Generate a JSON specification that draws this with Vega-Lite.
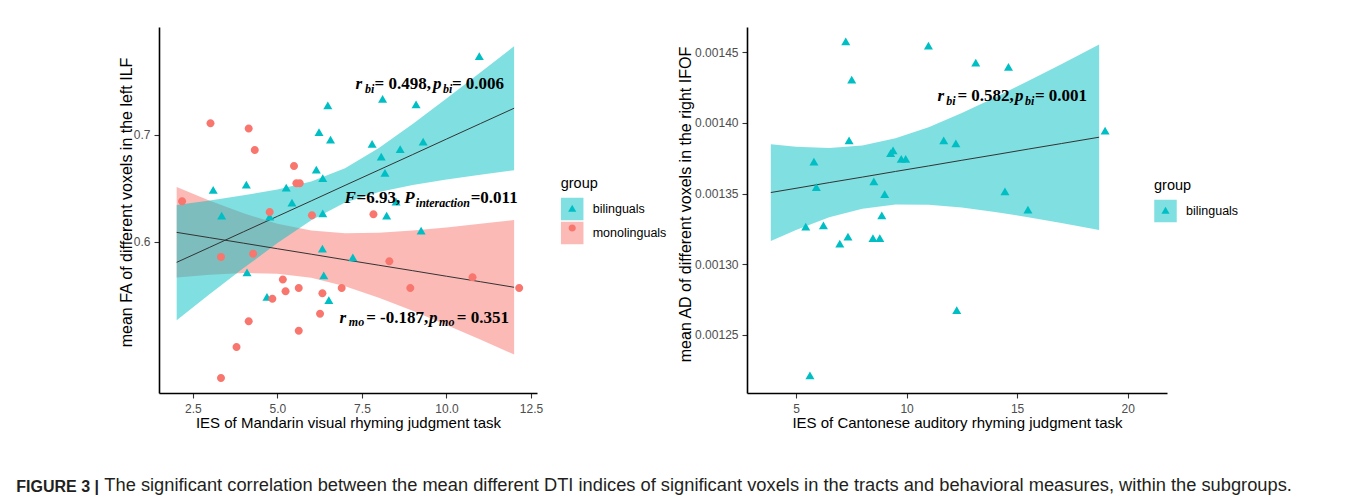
{
  "$schema": "https://vega.github.io/schema/vega-lite/v6.json",
  "autosize": {"type": "pad"},
  "padding": {"left": 16, "top": 27, "right": 5, "bottom": 0},
  "background": "white",
  "title": {"text": "The significant correlation between the mean different DTI indices of significant voxels in the tracts and behavioral measures, within the subgroups.", "orient": "bottom", "anchor": "start", "dx": 88, "offset": -18, "font": "Liberation Sans", "fontSize": 18.3, "fontWeight": "normal", "color": "#231F20"},
  "spacing": 10,
  "resolve": {
    "scale": {"color": "independent", "fill": "independent", "shape": "independent"},
    "legend": {"color": "independent", "fill": "independent", "shape": "independent"}
  },
  "datasets": {
    "left_pts": [
      {"group": "bilinguals", "ies": 10.97, "v": 0.773},
      {"group": "bilinguals", "ies": 8.11, "v": 0.733},
      {"group": "bilinguals", "ies": 9.10, "v": 0.728},
      {"group": "bilinguals", "ies": 6.49, "v": 0.727},
      {"group": "bilinguals", "ies": 6.23, "v": 0.702},
      {"group": "bilinguals", "ies": 6.57, "v": 0.695},
      {"group": "bilinguals", "ies": 7.80, "v": 0.691},
      {"group": "bilinguals", "ies": 9.31, "v": 0.693},
      {"group": "bilinguals", "ies": 8.63, "v": 0.686},
      {"group": "bilinguals", "ies": 8.07, "v": 0.679},
      {"group": "bilinguals", "ies": 8.18, "v": 0.664},
      {"group": "bilinguals", "ies": 6.15, "v": 0.667},
      {"group": "bilinguals", "ies": 6.34, "v": 0.659},
      {"group": "bilinguals", "ies": 5.26, "v": 0.650},
      {"group": "bilinguals", "ies": 4.08, "v": 0.653},
      {"group": "bilinguals", "ies": 3.10, "v": 0.648},
      {"group": "bilinguals", "ies": 5.43, "v": 0.636},
      {"group": "bilinguals", "ies": 8.51, "v": 0.637},
      {"group": "bilinguals", "ies": 3.35, "v": 0.624},
      {"group": "bilinguals", "ies": 4.77, "v": 0.623},
      {"group": "bilinguals", "ies": 6.34, "v": 0.626},
      {"group": "bilinguals", "ies": 8.23, "v": 0.624},
      {"group": "bilinguals", "ies": 9.25, "v": 0.610},
      {"group": "bilinguals", "ies": 6.33, "v": 0.593},
      {"group": "bilinguals", "ies": 7.23, "v": 0.585},
      {"group": "bilinguals", "ies": 4.10, "v": 0.571},
      {"group": "bilinguals", "ies": 6.37, "v": 0.568},
      {"group": "bilinguals", "ies": 4.69, "v": 0.548},
      {"group": "bilinguals", "ies": 6.52, "v": 0.545},
      {"group": "monolinguals", "ies": 3.02, "v": 0.711},
      {"group": "monolinguals", "ies": 4.15, "v": 0.706},
      {"group": "monolinguals", "ies": 4.33, "v": 0.686},
      {"group": "monolinguals", "ies": 5.49, "v": 0.671},
      {"group": "monolinguals", "ies": 5.56, "v": 0.655},
      {"group": "monolinguals", "ies": 5.66, "v": 0.655},
      {"group": "monolinguals", "ies": 2.18, "v": 0.638},
      {"group": "monolinguals", "ies": 4.77, "v": 0.628},
      {"group": "monolinguals", "ies": 6.02, "v": 0.625},
      {"group": "monolinguals", "ies": 7.84, "v": 0.626},
      {"group": "monolinguals", "ies": 3.33, "v": 0.586},
      {"group": "monolinguals", "ies": 4.28, "v": 0.589},
      {"group": "monolinguals", "ies": 8.31, "v": 0.582},
      {"group": "monolinguals", "ies": 5.16, "v": 0.565},
      {"group": "monolinguals", "ies": 5.24, "v": 0.554},
      {"group": "monolinguals", "ies": 5.63, "v": 0.557},
      {"group": "monolinguals", "ies": 6.33, "v": 0.552},
      {"group": "monolinguals", "ies": 6.90, "v": 0.557},
      {"group": "monolinguals", "ies": 8.93, "v": 0.557},
      {"group": "monolinguals", "ies": 10.77, "v": 0.567},
      {"group": "monolinguals", "ies": 12.15, "v": 0.557},
      {"group": "monolinguals", "ies": 4.85, "v": 0.547},
      {"group": "monolinguals", "ies": 4.15, "v": 0.526},
      {"group": "monolinguals", "ies": 6.26, "v": 0.533},
      {"group": "monolinguals", "ies": 5.63, "v": 0.517},
      {"group": "monolinguals", "ies": 3.79, "v": 0.502},
      {"group": "monolinguals", "ies": 3.33, "v": 0.473}
    ],
    "left_band": [
      {"group": "bilinguals", "ies": 2.02, "fit": 0.5810, "lo": 0.5269, "hi": 0.6345},
      {"group": "bilinguals", "ies": 3, "fit": 0.5951, "lo": 0.5514, "hi": 0.6388},
      {"group": "bilinguals", "ies": 4, "fit": 0.6096, "lo": 0.5756, "hi": 0.6436},
      {"group": "bilinguals", "ies": 5, "fit": 0.6240, "lo": 0.5990, "hi": 0.6490},
      {"group": "bilinguals", "ies": 6, "fit": 0.6384, "lo": 0.6203, "hi": 0.6566},
      {"group": "bilinguals", "ies": 7, "fit": 0.6529, "lo": 0.6368, "hi": 0.6690},
      {"group": "bilinguals", "ies": 8, "fit": 0.6673, "lo": 0.6468, "hi": 0.6878},
      {"group": "bilinguals", "ies": 9, "fit": 0.6817, "lo": 0.6532, "hi": 0.7102},
      {"group": "bilinguals", "ies": 10, "fit": 0.6962, "lo": 0.6584, "hi": 0.7340},
      {"group": "bilinguals", "ies": 11, "fit": 0.7106, "lo": 0.6629, "hi": 0.7583},
      {"group": "bilinguals", "ies": 12, "fit": 0.7250, "lo": 0.6671, "hi": 0.7829},
      {"group": "monolinguals", "ies": 2.02, "fit": 0.6090, "lo": 0.5668, "hi": 0.6514},
      {"group": "monolinguals", "ies": 3, "fit": 0.6040, "lo": 0.5695, "hi": 0.6385},
      {"group": "monolinguals", "ies": 4, "fit": 0.5989, "lo": 0.5710, "hi": 0.6268},
      {"group": "monolinguals", "ies": 5, "fit": 0.5937, "lo": 0.5704, "hi": 0.6170},
      {"group": "monolinguals", "ies": 6, "fit": 0.5886, "lo": 0.5665, "hi": 0.6107},
      {"group": "monolinguals", "ies": 7, "fit": 0.5834, "lo": 0.5586, "hi": 0.6082},
      {"group": "monolinguals", "ies": 8, "fit": 0.5783, "lo": 0.5480, "hi": 0.6087},
      {"group": "monolinguals", "ies": 9, "fit": 0.5732, "lo": 0.5357, "hi": 0.6107},
      {"group": "monolinguals", "ies": 10, "fit": 0.5680, "lo": 0.5224, "hi": 0.6136},
      {"group": "monolinguals", "ies": 11, "fit": 0.5629, "lo": 0.5088, "hi": 0.6170},
      {"group": "monolinguals", "ies": 12, "fit": 0.5577, "lo": 0.4948, "hi": 0.6206}
    ],
    "left_ann": [
      {"t": "r", "k": "v", "ies": 7.308, "v": 0.743},
      {"t": "bi", "k": "s", "ies": 7.589, "v": 0.7388},
      {"t": "= 0.498,", "k": "n", "ies": 7.869, "v": 0.743},
      {"t": "p", "k": "v", "ies": 9.600, "v": 0.743},
      {"t": "bi", "k": "s", "ies": 9.895, "v": 0.7388},
      {"t": "= 0.006", "k": "n", "ies": 10.160, "v": 0.743},
      {"t": "F", "k": "v", "ies": 6.984, "v": 0.6367},
      {"t": "=6.93,", "k": "n", "ies": 7.338, "v": 0.6367},
      {"t": "P", "k": "v", "ies": 8.754, "v": 0.6367},
      {"t": "interaction", "k": "s", "ies": 9.093, "v": 0.6330},
      {"t": "=0.011", "k": "n", "ies": 10.715, "v": 0.6367},
      {"t": "r", "k": "v", "ies": 6.836, "v": 0.5246},
      {"t": "mo", "k": "s", "ies": 7.111, "v": 0.5215},
      {"t": "= -0.187,", "k": "n", "ies": 7.624, "v": 0.5246},
      {"t": "p", "k": "v", "ies": 9.486, "v": 0.5246},
      {"t": "mo", "k": "s", "ies": 9.781, "v": 0.5215},
      {"t": "= 0.351", "k": "n", "ies": 10.303, "v": 0.5246}
    ],
    "right_pts": [
      {"group": "bilinguals", "ies": 7.25, "v": 0.001457},
      {"group": "bilinguals", "ies": 10.99, "v": 0.001454},
      {"group": "bilinguals", "ies": 13.13, "v": 0.001442},
      {"group": "bilinguals", "ies": 14.61, "v": 0.001439},
      {"group": "bilinguals", "ies": 7.52, "v": 0.001430},
      {"group": "bilinguals", "ies": 18.98, "v": 0.001394},
      {"group": "bilinguals", "ies": 7.40, "v": 0.001387},
      {"group": "bilinguals", "ies": 11.68, "v": 0.001387},
      {"group": "bilinguals", "ies": 12.23, "v": 0.001385},
      {"group": "bilinguals", "ies": 9.39, "v": 0.001380},
      {"group": "bilinguals", "ies": 9.28, "v": 0.001378},
      {"group": "bilinguals", "ies": 9.76, "v": 0.001374},
      {"group": "bilinguals", "ies": 9.96, "v": 0.001374},
      {"group": "bilinguals", "ies": 5.81, "v": 0.001372},
      {"group": "bilinguals", "ies": 5.92, "v": 0.001354},
      {"group": "bilinguals", "ies": 8.52, "v": 0.001358},
      {"group": "bilinguals", "ies": 9.01, "v": 0.001349},
      {"group": "bilinguals", "ies": 14.45, "v": 0.001351},
      {"group": "bilinguals", "ies": 15.49, "v": 0.001338},
      {"group": "bilinguals", "ies": 8.88, "v": 0.001334},
      {"group": "bilinguals", "ies": 5.44, "v": 0.001326},
      {"group": "bilinguals", "ies": 6.24, "v": 0.001327},
      {"group": "bilinguals", "ies": 6.98, "v": 0.001314},
      {"group": "bilinguals", "ies": 7.35, "v": 0.001319},
      {"group": "bilinguals", "ies": 8.48, "v": 0.001318},
      {"group": "bilinguals", "ies": 8.79, "v": 0.001318},
      {"group": "bilinguals", "ies": 12.27, "v": 0.001267},
      {"group": "bilinguals", "ies": 5.63, "v": 0.001221}
    ],
    "right_band": [
      {"group": "bilinguals", "ies": 3.86, "fit": 0.0013507, "lo": 0.0013165, "hi": 0.0013849},
      {"group": "bilinguals", "ies": 5, "fit": 0.0013537, "lo": 0.0013243, "hi": 0.0013831},
      {"group": "bilinguals", "ies": 6.5, "fit": 0.0013577, "lo": 0.0013332, "hi": 0.0013822},
      {"group": "bilinguals", "ies": 8, "fit": 0.0013616, "lo": 0.0013393, "hi": 0.0013839},
      {"group": "bilinguals", "ies": 9.5, "fit": 0.0013656, "lo": 0.0013422, "hi": 0.0013890},
      {"group": "bilinguals", "ies": 11, "fit": 0.0013695, "lo": 0.0013421, "hi": 0.0013969},
      {"group": "bilinguals", "ies": 12.5, "fit": 0.0013735, "lo": 0.0013401, "hi": 0.0014069},
      {"group": "bilinguals", "ies": 14, "fit": 0.0013774, "lo": 0.0013370, "hi": 0.0014179},
      {"group": "bilinguals", "ies": 15.5, "fit": 0.0013814, "lo": 0.0013333, "hi": 0.0014295},
      {"group": "bilinguals", "ies": 17, "fit": 0.0013853, "lo": 0.0013292, "hi": 0.0014414},
      {"group": "bilinguals", "ies": 18.71, "fit": 0.0013898, "lo": 0.0013243, "hi": 0.0014553}
    ],
    "right_ann": [
      {"t": "r", "k": "v", "ies": 11.394, "v": 0.0014154},
      {"t": "bi", "k": "s", "ies": 11.80, "v": 0.0014126},
      {"t": "= 0.582,", "k": "n", "ies": 12.299, "v": 0.0014154},
      {"t": "p", "k": "v", "ies": 14.90, "v": 0.0014154},
      {"t": "bi", "k": "s", "ies": 15.353, "v": 0.0014126},
      {"t": "= 0.001", "k": "n", "ies": 15.805, "v": 0.0014154}
    ]
  },
  "hconcat": [
    {
      "width": 378,
      "height": 366,
      "title": {"text": "FIGURE 3 |", "orient": "bottom", "anchor": "start", "dx": -102, "offset": 49, "font": "Liberation Sans", "fontSize": 16, "fontWeight": "bold", "color": "#231F20"},
      "layer": [
        {
          "data": {"name": "left_band"},
          "transform": [{"filter": "datum.group === 'monolinguals'"}],
          "mark": {"type": "area", "opacity": 0.5},
          "encoding": {
            "x": {"field": "ies", "type": "quantitative", "scale": {"domain": [1.497, 12.677], "zero": false, "nice": false}, "axis": {"title": "IES of Mandarin visual rhyming judgment task", "values": [2.5, 5, 7.5, 10, 12.5], "format": ".1f"}},
            "y": {"field": "lo", "type": "quantitative", "stack": null, "scale": {"domain": [0.4589, 0.8009], "zero": false, "nice": false}, "axis": {"title": "mean FA of different voxels in the left ILF", "values": [0.6, 0.7], "format": ".1f", "titleY": 175}},
            "y2": {"field": "hi"},
            "color": {"field": "group", "type": "nominal", "scale": {"range": ["#00BFC4", "#F8766D"]}, "legend": {"title": "group", "orient": "none", "legendX": 401.7, "legendY": 150, "symbolType": "square", "symbolOpacity": 0.5}}
          }
        },
        {
          "data": {"name": "left_band"},
          "transform": [{"filter": "datum.group === 'bilinguals'"}],
          "mark": {"type": "area", "opacity": 0.5},
          "encoding": {
            "x": {"field": "ies", "type": "quantitative", "title": "IES of Mandarin visual rhyming judgment task"},
            "y": {"field": "lo", "type": "quantitative", "stack": null, "title": "mean FA of different voxels in the left ILF"},
            "y2": {"field": "hi"},
            "color": {"field": "group", "type": "nominal"}
          }
        },
        {
          "data": {"name": "left_band"},
          "mark": {"type": "line", "color": "#333333", "strokeWidth": 1},
          "encoding": {
            "x": {"field": "ies", "type": "quantitative", "title": "IES of Mandarin visual rhyming judgment task"},
            "y": {"field": "fit", "type": "quantitative", "title": "mean FA of different voxels in the left ILF"},
            "detail": {"field": "group"}
          }
        },
        {
          "data": {"name": "left_pts"},
          "mark": {"type": "point", "filled": true, "opacity": 1, "size": 625, "strokeWidth": 0},
          "encoding": {
            "x": {"field": "ies", "type": "quantitative", "title": "IES of Mandarin visual rhyming judgment task"},
            "y": {"field": "v", "type": "quantitative", "title": "mean FA of different voxels in the left ILF"},
            "fill": {"field": "group", "type": "nominal", "scale": {"domain": ["bilinguals", "monolinguals"], "range": ["#00BFC4", "#F8766D"]}, "legend": {"title": "group", "orient": "none", "legendX": 401.7, "legendY": 150, "titleOpacity": 0, "labelExpr": "''", "symbolOpacity": 1}},
            "shape": {"field": "group", "type": "nominal", "scale": {"domain": ["bilinguals", "monolinguals"], "range": ["M0,-0.37L0.36,0.25L-0.36,0.25Z", "M0.32,0A0.32,0.32 0 1,1 -0.32,0A0.32,0.32 0 1,1 0.32,0Z"]}, "legend": {"title": "group", "orient": "none", "legendX": 401.7, "legendY": 150, "titleOpacity": 0, "labelExpr": "''", "symbolOpacity": 1}}
          }
        },
        {
          "data": {"name": "left_ann"},
          "transform": [{"filter": "datum.k === 'v'"}],
          "mark": {"type": "text", "align": "left", "baseline": "alphabetic", "font": "Liberation Serif", "fontSize": 17, "fontWeight": "bold", "fontStyle": "italic", "color": "#000000"},
          "encoding": {
            "x": {"field": "ies", "type": "quantitative", "title": "IES of Mandarin visual rhyming judgment task"},
            "y": {"field": "v", "type": "quantitative", "title": "mean FA of different voxels in the left ILF"},
            "text": {"field": "t"}
          }
        },
        {
          "data": {"name": "left_ann"},
          "transform": [{"filter": "datum.k === 'n'"}],
          "mark": {"type": "text", "align": "left", "baseline": "alphabetic", "font": "Liberation Serif", "fontSize": 17, "fontWeight": "bold", "color": "#000000"},
          "encoding": {
            "x": {"field": "ies", "type": "quantitative", "title": "IES of Mandarin visual rhyming judgment task"},
            "y": {"field": "v", "type": "quantitative", "title": "mean FA of different voxels in the left ILF"},
            "text": {"field": "t"}
          }
        },
        {
          "data": {"name": "left_ann"},
          "transform": [{"filter": "datum.k === 's'"}],
          "mark": {"type": "text", "align": "left", "baseline": "alphabetic", "font": "Liberation Serif", "fontSize": 12, "fontWeight": "bold", "fontStyle": "italic", "color": "#000000"},
          "encoding": {
            "x": {"field": "ies", "type": "quantitative", "title": "IES of Mandarin visual rhyming judgment task"},
            "y": {"field": "v", "type": "quantitative", "title": "mean FA of different voxels in the left ILF"},
            "text": {"field": "t"}
          }
        }
      ]
    },
    {
      "width": 420,
      "height": 366,
      "layer": [
        {
          "data": {"name": "right_band"},
          "mark": {"type": "area", "opacity": 0.5},
          "encoding": {
            "x": {"field": "ies", "type": "quantitative", "scale": {"domain": [2.783, 21.78], "zero": false, "nice": false}, "axis": {"title": "IES of Cantonese auditory rhyming judgment task", "values": [5, 10, 15, 20], "format": "d"}},
            "y": {"field": "lo", "type": "quantitative", "stack": null, "scale": {"domain": [0.001209, 0.0014677], "zero": false, "nice": false}, "axis": {"title": "mean AD of different voxels in the right IFOF", "values": [0.00125, 0.0013, 0.00135, 0.0014, 0.00145], "format": ".5f", "titleY": 177, "titlePadding": 1}},
            "y2": {"field": "hi"},
            "color": {"field": "group", "type": "nominal", "scale": {"range": ["#00BFC4"]}, "legend": {"title": "group", "orient": "none", "legendX": 407, "legendY": 152, "symbolType": "square", "symbolOpacity": 0.5}}
          }
        },
        {
          "data": {"name": "right_band"},
          "mark": {"type": "line", "color": "#333333", "strokeWidth": 1},
          "encoding": {
            "x": {"field": "ies", "type": "quantitative", "title": "IES of Cantonese auditory rhyming judgment task"},
            "y": {"field": "fit", "type": "quantitative", "title": "mean AD of different voxels in the right IFOF"}
          }
        },
        {
          "data": {"name": "right_pts"},
          "mark": {"type": "point", "filled": true, "opacity": 1, "size": 625, "strokeWidth": 0},
          "encoding": {
            "x": {"field": "ies", "type": "quantitative", "title": "IES of Cantonese auditory rhyming judgment task"},
            "y": {"field": "v", "type": "quantitative", "title": "mean AD of different voxels in the right IFOF"},
            "fill": {"field": "group", "type": "nominal", "scale": {"domain": ["bilinguals"], "range": ["#00BFC4"]}, "legend": {"title": "group", "orient": "none", "legendX": 407, "legendY": 152, "titleOpacity": 0, "labelExpr": "''", "symbolOpacity": 1}},
            "shape": {"field": "group", "type": "nominal", "scale": {"domain": ["bilinguals"], "range": ["M0,-0.37L0.36,0.25L-0.36,0.25Z"]}, "legend": {"title": "group", "orient": "none", "legendX": 407, "legendY": 152, "titleOpacity": 0, "labelExpr": "''", "symbolOpacity": 1}}
          }
        },
        {
          "data": {"name": "right_ann"},
          "transform": [{"filter": "datum.k === 'v'"}],
          "mark": {"type": "text", "align": "left", "baseline": "alphabetic", "font": "Liberation Serif", "fontSize": 17, "fontWeight": "bold", "fontStyle": "italic", "color": "#000000"},
          "encoding": {
            "x": {"field": "ies", "type": "quantitative", "title": "IES of Cantonese auditory rhyming judgment task"},
            "y": {"field": "v", "type": "quantitative", "title": "mean AD of different voxels in the right IFOF"},
            "text": {"field": "t"}
          }
        },
        {
          "data": {"name": "right_ann"},
          "transform": [{"filter": "datum.k === 'n'"}],
          "mark": {"type": "text", "align": "left", "baseline": "alphabetic", "font": "Liberation Serif", "fontSize": 17, "fontWeight": "bold", "color": "#000000"},
          "encoding": {
            "x": {"field": "ies", "type": "quantitative", "title": "IES of Cantonese auditory rhyming judgment task"},
            "y": {"field": "v", "type": "quantitative", "title": "mean AD of different voxels in the right IFOF"},
            "text": {"field": "t"}
          }
        },
        {
          "data": {"name": "right_ann"},
          "transform": [{"filter": "datum.k === 's'"}],
          "mark": {"type": "text", "align": "left", "baseline": "alphabetic", "font": "Liberation Serif", "fontSize": 12, "fontWeight": "bold", "fontStyle": "italic", "color": "#000000"},
          "encoding": {
            "x": {"field": "ies", "type": "quantitative", "title": "IES of Cantonese auditory rhyming judgment task"},
            "y": {"field": "v", "type": "quantitative", "title": "mean AD of different voxels in the right IFOF"},
            "text": {"field": "t"}
          }
        }
      ]
    }
  ],
  "config": {
    "view": {"stroke": null},
    "font": "Liberation Sans",
    "axis": {"grid": false, "domainColor": "#000000", "domainWidth": 1.6, "tickColor": "#333333", "tickWidth": 1.1, "tickSize": 5, "labelColor": "#4D4D4D", "labelFont": "Liberation Sans", "labelFontSize": 12, "labelPadding": 4, "titleFont": "Liberation Sans", "titleFontSize": 15, "titleFontWeight": "normal", "titleColor": "#000000", "titlePadding": -1},
    "axisY": {"titleFontSize": 16},
    "axisX": {"labelPadding": 5, "titlePadding": 1},
    "legend": {"titleFont": "Liberation Sans", "titleFontSize": 14.5, "titleFontWeight": "normal", "titleColor": "#000000", "labelFont": "Liberation Sans", "labelFontSize": 12.5, "labelColor": "#000000", "symbolSize": 506, "symbolStrokeWidth": 0, "labelOffset": 9, "rowPadding": 1, "titlePadding": 6}
  }
}
